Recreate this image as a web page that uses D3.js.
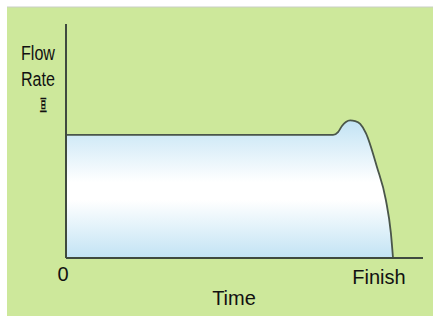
<!DOCTYPE html>
<html>
<head>
<meta charset="utf-8">
<script src="https://cdn.jsdelivr.net/npm/d3@7"></script>
<style>
html,body{margin:0;padding:0;background:#fff;}
svg{display:block;}
text{font-family:"Liberation Sans",Arial,sans-serif;fill:#111;}
</style>
</head>
<body>
<script>
// Data (normalized units 0-100)
const time = [0, 74.8, 76.2, 77.3, 78.4, 79.6, 81.0, 82.4, 84.0, 87.1, 89.6, 91.0, 91.6];
const flow = [52.6, 52.6, 53.8, 56.4, 58.1, 58.8, 58.5, 57.3, 53.4, 38.9, 24.8, 10.7, 0];
const xTickLabels = ["0", "Finish"];
const xTickValues = [0, 91.6];
const yLabelLines = ["Flow", "Rate"];
const xTitle = "Time";

const W = 433, H = 316;
const svg = d3.select("body").append("svg").attr("width", W).attr("height", H);

// background
svg.append("rect").attr("x", 0).attr("y", 0).attr("width", W).attr("height", H).attr("fill", "#fff");
svg.append("rect").attr("x", 7).attr("y", 7).attr("width", W - 7).attr("height", H - 7).attr("fill", "#cde89b");
svg.append("line").attr("x1", 7).attr("x2", W).attr("y1", 7).attr("y2", 7).attr("stroke", "#c9cfc4").attr("stroke-width", 1);

const x = d3.scaleLinear().domain([0, 100]).range([66, 423]);
const y = d3.scaleLinear().domain([0, 100]).range([258, 24]);

const defs = svg.append("defs");
const grad = defs.append("linearGradient").attr("id", "fillGrad").attr("x1", 0).attr("x2", 0).attr("y1", 0).attr("y2", 1);
grad.append("stop").attr("offset", "0%").attr("stop-color", "#c2e3f4");
grad.append("stop").attr("offset", "45%").attr("stop-color", "#ffffff");
grad.append("stop").attr("offset", "58%").attr("stop-color", "#ffffff");
grad.append("stop").attr("offset", "100%").attr("stop-color", "#c2e3f4");

const pts = time.map((t, i) => [t, flow[i]]);

const curve = d3.curveMonotoneX;
const area = d3.area().x(d => x(d[0])).y0(y(0)).y1(d => y(d[1])).curve(curve);
const line = d3.line().x(d => x(d[0])).y(d => y(d[1])).curve(curve);

svg.append("path").datum(pts).attr("d", area).attr("fill", "url(#fillGrad)");
svg.append("path").datum(pts).attr("d", line).attr("fill", "none").attr("stroke", "#4a564a").attr("stroke-width", 1.8);

// axes
svg.append("line").attr("x1", x(0)).attr("x2", x(0)).attr("y1", y(100)).attr("y2", y(0))
  .attr("stroke", "#3f4a3f").attr("stroke-width", 2);
svg.append("line").attr("x1", x(0)).attr("x2", x(100)).attr("y1", y(0)).attr("y2", y(0))
  .attr("stroke", "#3f4a3f").attr("stroke-width", 2);

// tick labels
svg.append("text").attr("x", x(xTickValues[0]) - 3).attr("y", 281).attr("text-anchor", "middle").attr("font-size", 20).text(xTickLabels[0]);
svg.append("text").attr("x", x(xTickValues[1]) - 14).attr("y", 283.5).attr("text-anchor", "middle").attr("font-size", 20).text(xTickLabels[1]);

// titles
svg.append("text").attr("x", 234).attr("y", 305).attr("text-anchor", "middle").attr("font-size", 20).text(xTitle);
yLabelLines.forEach((s, i) => {
  svg.append("text").attr("x", 21).attr("y", 60 + i * 26).attr("font-size", 20)
    .attr("textLength", 34).attr("lengthAdjust", "spacingAndGlyphs").text(s);
});
svg.append("text").attr("x", 43.5).attr("y", 111).attr("text-anchor", "middle").attr("font-size", 17)
  .attr("font-family", "Noto Sans CJK SC").attr("font-weight", "bold")
  .attr("transform", "translate(43.5,0) scale(0.4,1) translate(-43.5,0)")
  .text("亘");
</script>
</body>
</html>
